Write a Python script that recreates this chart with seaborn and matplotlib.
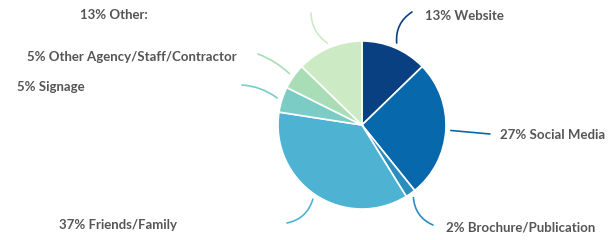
import numpy as np
import matplotlib
matplotlib.use("Agg")
import matplotlib.pyplot as plt
import seaborn as sns

# data
labels = ["Website", "Social Media", "Brochure/Publication", "Friends/Family",
          "Signage", "Other Agency/Staff/Contractor", "Other:"]
shares = [13, 27, 2, 37, 5, 5, 13]
colors = ["#084081", "#0868ac", "#2b8cbe", "#4eb3d3", "#7bccc4", "#a8ddb5", "#ccebc5"]

# layout (pixel coords, y measured from top)
W, H = 608, 240
cx, cy, R = 362, 125, 84
line_end = [(412, 12), (490, 134), (433, 225), (287, 223), (242, 85), (258, 54), (311, 13)]
text_pos = [(425, 16), (500, 135), (446, 227), (177, 225), (85, 87), (237, 57), (148, 15)]
text_ha = ["left", "left", "left", "right", "right", "right", "right"]
rads = [-0.3, 0.0, 0.3, -0.3, 0.15, 0.1, -0.25]

sns.set_theme(style="white")
plt.rcParams['font.family'] = ['Lato', 'DejaVu Sans']

fig = plt.figure(figsize=(W / 100, H / 100), dpi=100)
ax = fig.add_axes([0, 0, 1, 1])

wedges, _ = ax.pie(shares, colors=colors, startangle=90, counterclock=False,
                   center=(cx, H - cy), radius=R,
                   wedgeprops=dict(edgecolor="white", linewidth=1.2))
ax.set_xlim(0, W)
ax.set_ylim(0, H)
ax.set_aspect("equal")
ax.axis("off")

for i, w in enumerate(wedges):
    ang = np.deg2rad((w.theta1 + w.theta2) / 2)
    start = (cx + (R + 5) * np.cos(ang), H - cy + (R + 5) * np.sin(ang))
    ex, ey = line_end[i]
    ax.annotate("", xy=(ex, H - ey), xytext=start,
                arrowprops=dict(arrowstyle="-", color=colors[i], lw=1.2,
                                shrinkA=0, shrinkB=0,
                                connectionstyle="arc3,rad=%s" % rads[i]))
    tx, ty = text_pos[i]
    ax.text(tx, H - ty, "%d%% %s" % (shares[i], labels[i]), ha=text_ha[i], va="center",
            fontsize=9.5, fontweight="bold", color="#555555")

fig.savefig("out.png", dpi=100)
